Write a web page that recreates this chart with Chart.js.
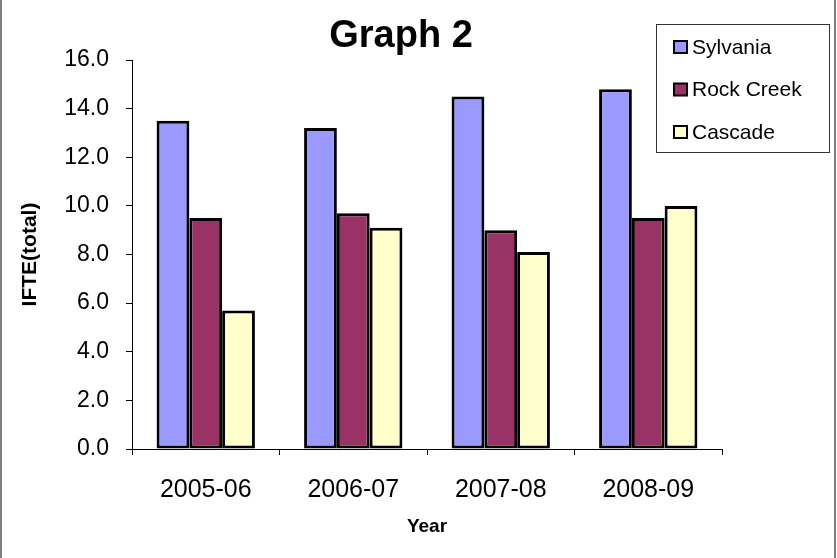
<!DOCTYPE html>
<html>
<head>
<meta charset="utf-8">
<script src="https://cdn.jsdelivr.net/npm/chart.js@4/dist/chart.umd.min.js"></script>
<style>
  html, body { margin: 0; padding: 0; background: #fff; }
  #wrap { position: relative; width: 837px; height: 558px; }
  canvas { display: block; }
</style>
</head>
<body>
<div id="wrap"><canvas id="c" width="837" height="558"></canvas></div>
<script>
const categories = ["2005-06", "2006-07", "2007-08", "2008-09"];
const seriesNames = ["Sylvania", "Rock Creek", "Cascade"];
const sylvania = [13.5, 13.2, 14.5, 14.8];
const rockCreek = [9.5, 9.7, 9.0, 9.5];
const cascade = [5.7, 9.1, 8.1, 10.0];
const seriesColors = ["#9999FF", "#993366", "#FFFFCC"];
const chartTitle = "Graph 2";
const yAxisTitle = "IFTE(total)";
const xAxisTitle = "Year";

const FONT = "'Liberation Sans', Arial, sans-serif";

const frameAndTitle = {
  id: 'frameAndTitle',
  afterDraw(chart) {
    const ctx = chart.ctx;
    ctx.save();
    // outer frame lines
    ctx.fillStyle = '#808080';
    ctx.fillRect(0, 0, 2, 558);
    ctx.fillRect(834, 0, 2, 558);
    // title
    ctx.fillStyle = '#000';
    ctx.font = 'bold 38px ' + FONT;
    ctx.textAlign = 'center';
    ctx.textBaseline = 'alphabetic';
    ctx.fillText(chartTitle, 401, 47);
    // legend
    const lx = 656, ly = 24, lw = 173, lh = 128;
    ctx.fillStyle = '#fff';
    ctx.fillRect(lx, ly, lw, lh);
    ctx.strokeStyle = '#333';
    ctx.lineWidth = 1;
    ctx.strokeRect(lx + 0.5, ly + 0.5, lw, lh);
    ctx.font = '21px ' + FONT;
    ctx.textAlign = 'left';
    ctx.textBaseline = 'middle';
    chart.data.datasets.forEach((ds, i) => {
      const cy = 47 + i * 42.5;
      ctx.fillStyle = ds.backgroundColor;
      ctx.fillRect(674, cy - 6, 13, 12);
      ctx.strokeStyle = '#000';
      ctx.lineWidth = 2;
      ctx.strokeRect(674, cy - 6, 13, 12);
      ctx.fillStyle = '#000';
      ctx.fillText(ds.label, 692, cy + 1);
    });
    ctx.restore();
  }
};

const datasets = [sylvania, rockCreek, cascade].map((vals, i) => ({
  label: seriesNames[i],
  data: vals,
  backgroundColor: seriesColors[i],
  borderColor: '#000',
  borderWidth: 3,
  borderSkipped: false,
  categoryPercentage: 3 / 4.5,
  barPercentage: 1.0
}));

new Chart(document.getElementById('c'), {
  type: 'bar',
  data: { labels: categories, datasets },
  plugins: [frameAndTitle],
  options: {
    responsive: false,
    animation: false,
    devicePixelRatio: 1,
    layout: { padding: { top: 60, right: 115, left: 0, bottom: 0 } },
    plugins: {
      legend: { display: false },
      title: { display: false },
      tooltip: { enabled: false }
    },
    scales: {
      x: {
        afterFit(scale) { scale.height = 109; },
        grid: {
          display: true,
          drawOnChartArea: false,
          drawTicks: true,
          tickLength: 6,
          color: '#000',
          offset: true
        },
        border: { display: true, color: '#000', width: 1 },
        ticks: {
          color: '#000',
          font: { family: FONT, size: 25 },
          padding: 20,
          maxRotation: 0
        },
        title: {
          display: true,
          text: xAxisTitle,
          color: '#000',
          font: { family: FONT, size: 19, weight: 'bold' },
          padding: { top: 0, bottom: 20 }
        }
      },
      y: {
        min: 0,
        max: 16,
        afterFit(scale) { scale.width = 132; },
        grid: {
          display: true,
          drawOnChartArea: false,
          drawTicks: true,
          tickLength: 6,
          color: '#000'
        },
        border: { display: true, color: '#000', width: 1 },
        ticks: {
          stepSize: 2,
          color: '#000',
          font: { family: FONT, size: 23 },
          padding: 17,
          callback: v => Number(v).toFixed(1)
        },
        title: {
          display: true,
          text: yAxisTitle,
          color: '#000',
          font: { family: FONT, size: 21, weight: 'bold' },
          padding: { top: 18, bottom: 0 }
        }
      }
    }
  }
});
</script>
</body>
</html>
